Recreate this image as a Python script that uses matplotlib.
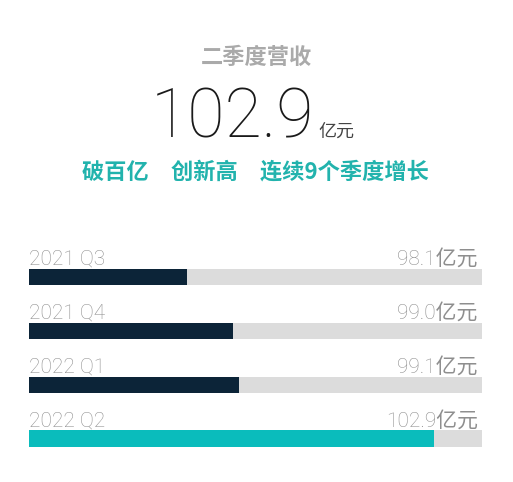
import matplotlib
matplotlib.use('Agg')
import matplotlib.pyplot as plt

plt.rcParams['font.family'] = ['Roboto', 'Noto Sans CJK SC', 'DejaVu Sans']

# 数据
quarters = ['2021 Q3', '2021 Q4', '2022 Q1', '2022 Q2']
revenue = [98.1, 99.0, 99.1, 102.9]
unit = '亿元'
headline = '二季度营收'
big_value = '102.9'
subtitle = '破百亿　创新高　连续9个季度增长'

x_min, x_max = 95.03, 103.83

navy = '#0c2438'
teal = '#0abcbc'
track = '#dcdcdc'
label_gray = '#8e8e8e'

fig = plt.figure(figsize=(5.13, 4.82), dpi=100)
W, H = 513, 482

# 顶部文字
fig.text(256 / W, 1 - 57 / H, headline, ha='center', va='center',
         fontsize=16, fontweight='bold', color='#aaaaaa',
         family=['Noto Sans CJK SC'])
fig.text(314 / W, 1 - 137 / H, big_value, ha='right', va='baseline',
         fontsize=49, fontweight='light', color='#1a1a1a',
         family=['Roboto'])
fig.text(318 / W, 1 - 137 / H, unit, ha='left', va='baseline',
         fontsize=13, fontweight='light', color='#444444',
         family=['Noto Sans CJK SC'])
fig.text(255 / W, 1 - 172 / H, subtitle, ha='center', va='center',
         fontsize=16, fontweight='bold', color='#22b3ad',
         family=['Noto Sans CJK SC'])

# 条形图
top_px, bot_px = 228.6, 465.4
ax = fig.add_axes([29 / W, 1 - bot_px / H, (482 - 29) / W, (bot_px - top_px) / H])
y = list(range(len(quarters)))
colors = [navy, navy, navy, teal]
bh = 0.3

ax.barh(y, [x_max] * len(y), height=bh, color=track, zorder=1)
ax.barh(y, revenue, height=bh, color=colors, zorder=2)

for i, (q, v) in enumerate(zip(quarters, revenue)):
    ax.annotate(q, (x_min, i - bh / 2), xytext=(0, 3), textcoords='offset points',
                ha='left', va='baseline', fontsize=15, fontweight='light',
                color=label_gray)
    ax.annotate(f'{v:.1f}{unit}', (x_max, i - bh / 2), xytext=(-3, 3),
                textcoords='offset points', ha='right', va='baseline',
                fontsize=15, fontweight='light', color=label_gray)

ax.set_xlim(x_min, x_max)
ax.set_ylim(3.5, -0.9)
ax.axis('off')

fig.savefig('out.png', dpi=100, facecolor='white')
